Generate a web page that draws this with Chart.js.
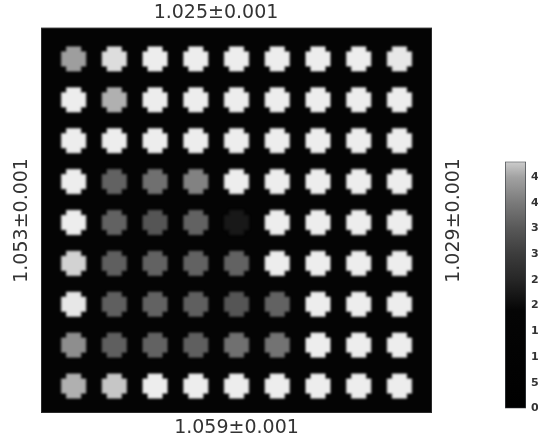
<!DOCTYPE html>
<html>
<head>
<meta charset="utf-8">
<script src="https://cdn.jsdelivr.net/npm/chart.js@4"></script>
<style>
  html, body { margin: 0; padding: 0; background: #fff; overflow: hidden; }
  #page { position: relative; width: 538px; height: 444px; overflow: hidden; }
  #mainBox { position: absolute; left: 0; top: 0; width: 538px; height: 444px; }
  #barBox { position: absolute; left: 495px; top: 150px; width: 70px; height: 270px; }
</style>
</head>
<body>
<div id="page">
  <div id="mainBox"><canvas id="gridChart"></canvas></div>
  <div id="barBox"><canvas id="colorBar"></canvas></div>
</div>
<script>
// edge labels
const topLabel = '1.025±0.001';
const bottomLabel = '1.059±0.001';
const leftLabel = '1.053±0.001';
const rightLabel = '1.029±0.001';

// 9 x 9 grid, rows top to bottom, columns left to right
const colIndex = [0, 1, 2, 3, 4, 5, 6, 7, 8];
const rowIndex = [0, 1, 2, 3, 4, 5, 6, 7, 8];
const row1 = [44.5, 51, 54, 54, 54, 54, 54, 54, 53];
const row2 = [54, 46, 54, 54, 54, 54, 54, 54, 54];
const row3 = [54, 54, 54, 54, 54, 54, 54, 54, 54];
const row4 = [54, 36.5, 38.5, 41, 54, 54, 54, 54, 54];
const row5 = [54, 36.5, 34.5, 36.5, 22.5, 54, 54, 54, 54];
const row6 = [49, 36, 36.5, 36.5, 36.5, 54, 54, 54, 54];
const row7 = [53, 36, 36.5, 36, 34.5, 36.5, 54, 54, 54];
const row8 = [42.5, 36, 36.5, 36, 38.5, 39, 54, 54, 54];
const row9 = [46, 47.5, 54, 54, 54, 54, 54, 54, 54];
const gridRows = [row1, row2, row3, row4, row5, row6, row7, row8, row9];

// colour bar
const colorbarTicks = [0, 5, 10, 15, 20, 25, 30, 35, 40, 45];
const colorbarMin = 0;
const colorbarMax = 48;

// grey colormap (value -> grey level)
const cmapValues = [0, 19, 25, 30, 35, 40, 45, 48, 55];
const cmapGrays = [0, 5, 38, 60, 88, 122, 162, 205, 242];

const FONT = 'DejaVu Sans, Verdana, sans-serif';
const labelFont = { family: FONT, size: 19 };
const textColor = '#333';

function greyFor(v) {
  let g = cmapGrays[cmapGrays.length - 1];
  if (v <= cmapValues[0]) g = cmapGrays[0];
  for (let i = 1; i < cmapValues.length; i++) {
    if (v <= cmapValues[i]) {
      const t = (v - cmapValues[i - 1]) / (cmapValues[i] - cmapValues[i - 1]);
      g = cmapGrays[i - 1] + t * (cmapGrays[i] - cmapGrays[i - 1]);
      break;
    }
  }
  g = Math.round(g);
  return `rgb(${g},${g},${g})`;
}

// pixelated blob sprite: 5x5 cells with the corners cut, one path so no seams
function makeBlob(color) {
  const c = document.createElement('canvas');
  c.width = 34; c.height = 34;
  const ctx = c.getContext('2d');
  ctx.filter = 'blur(0.8px)';
  ctx.fillStyle = color;
  const s = 5, off = (34 - 5 * s) / 2;
  ctx.beginPath();
  ctx.rect(off + s, off, 3 * s, 5 * s);
  ctx.rect(off, off + s, 5 * s, 3 * s);
  ctx.fill('nonzero');
  return c;
}

const points = [];
const sprites = [];
rowIndex.forEach(r => {
  colIndex.forEach(c => {
    points.push({ x: c, y: 8 - r });
    sprites.push(makeBlob(greyFor(gridRows[r][c])));
  });
});

const blackArea = {
  id: 'blackArea',
  beforeDatasetsDraw(chart) {
    const { ctx, chartArea: a } = chart;
    ctx.save();
    ctx.fillStyle = '#040404';
    ctx.fillRect(a.left, a.top, a.right - a.left, a.bottom - a.top);
    ctx.strokeStyle = '#2b2b2b';
    ctx.lineWidth = 1;
    ctx.strokeRect(a.left + 0.5, a.top + 0.5, a.right - a.left - 1, a.bottom - a.top - 1);
    ctx.restore();
  }
};

// right side label reads bottom to top, like the left one
const rightTitle = {
  id: 'rightTitle',
  afterDraw(chart) {
    const { ctx, chartArea: a } = chart;
    ctx.save();
    ctx.translate(a.right + 22, (a.top + a.bottom) / 2);
    ctx.rotate(-Math.PI / 2);
    ctx.font = `19px ${FONT}`;
    ctx.fillStyle = textColor;
    ctx.textAlign = 'center';
    ctx.textBaseline = 'middle';
    ctx.fillText(rightLabel, 0, 0);
    ctx.restore();
  }
};

new Chart(document.getElementById('gridChart'), {
  type: 'scatter',
  data: {
    datasets: [{
      data: points,
      pointStyle: ctx => sprites[ctx.dataIndex],
      pointRadius: 12,
      pointHoverRadius: 12
    }]
  },
  options: {
    animation: false,
    responsive: true,
    maintainAspectRatio: false,
    layout: { padding: { left: 0, right: 106, top: 0, bottom: 0 } },
    plugins: {
      legend: { display: false },
      tooltip: { enabled: false },
      title: {
        display: true, text: topLabel, color: textColor,
        font: { family: FONT, size: 19, weight: 'normal' },
        padding: { top: 2, bottom: 3 }
      }
    },
    scales: {
      x: {
        type: 'linear', min: -0.8, max: 8.8,
        grid: { display: false, drawTicks: false },
        border: { display: false },
        ticks: { display: false },
        title: { display: true, text: bottomLabel, color: textColor, font: labelFont, padding: { top: 3.6, bottom: 4.6 } }
      },
      y: {
        type: 'linear', min: -0.66, max: 8.76,
        grid: { display: false, drawTicks: false },
        border: { display: false },
        ticks: { display: false },
        title: { display: true, text: leftLabel, color: textColor, font: labelFont, padding: { top: 10.6, bottom: 7.6 } }
      }
    }
  },
  plugins: [blackArea, rightTitle]
});

new Chart(document.getElementById('colorBar'), {
  type: 'bar',
  data: {
    labels: [''],
    datasets: [{
      data: [[colorbarMin, colorbarMax]],
      backgroundColor: c => {
        const { chart } = c;
        const a = chart.chartArea;
        if (!a) return '#000';
        const ys = chart.scales.y;
        const y0 = ys.getPixelForValue(colorbarMin), y1 = ys.getPixelForValue(colorbarMax);
        const g = chart.ctx.createLinearGradient(0, y0, 0, y1);
        cmapValues.forEach(v => {
          if (v <= colorbarMax) g.addColorStop((v - colorbarMin) / (colorbarMax - colorbarMin), greyFor(v));
        });
        return g;
      },
      borderColor: '#3c4146',
      borderWidth: 1,
      borderSkipped: false,
      barPercentage: 1,
      categoryPercentage: 1
    }]
  },
  options: {
    animation: false,
    responsive: true,
    maintainAspectRatio: false,
    layout: { padding: { left: 10, right: 14, top: 5, bottom: 7 } },
    plugins: { legend: { display: false }, tooltip: { enabled: false } },
    scales: {
      x: { display: false },
      y: {
        position: 'right', min: colorbarMin, max: colorbarMax,
        afterBuildTicks: s => { s.ticks = colorbarTicks.map(v => ({ value: v })); },
        afterFit: s => { s.width = 25; },
        grid: { display: false, drawTicks: false },
        border: { display: false },
        ticks: { padding: 5, color: textColor, font: { family: FONT, size: 11, weight: 'bold' } }
      }
    }
  }
});
</script>
</body>
</html>
